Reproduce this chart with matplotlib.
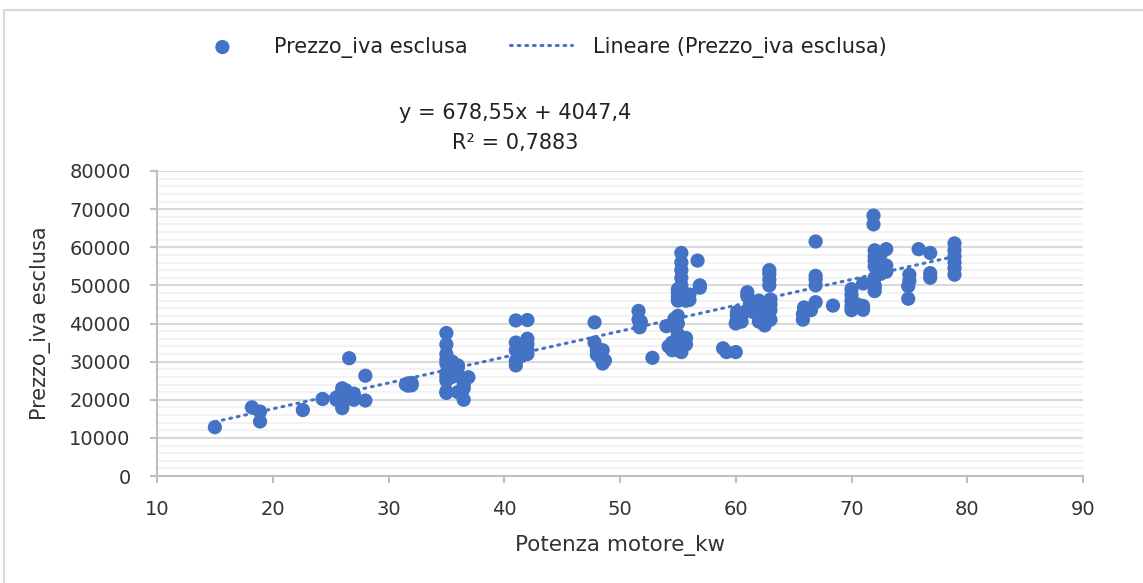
import matplotlib.pyplot as plt
from matplotlib.patches import Rectangle

plt.rcParams['font.family'] = ['DejaVu Sans']

potenza_kw = [
    15, 18.2, 18.9, 18.9, 22.6, 24.3, 25.5, 25.5,
    26, 26, 26, 26, 26, 26.3, 26.5, 26.6, 27, 27, 28, 28,
    31.5, 31.7, 31.7, 32, 32,
    35, 35, 35, 35, 35, 35, 35, 35, 35, 35,
    35.5, 35.5, 35.5, 36, 36, 36, 36, 36.3, 36.5, 36.5, 36.5, 36.9,
    41, 41, 41, 41, 41, 41.2, 41.5, 41.5, 42, 42, 42, 42, 42,
    47.8, 47.8, 48, 48, 48.3, 48.5, 48.5, 48.7,
    51.6, 51.6, 51.7, 51.8, 52.8, 54, 54.2,
    54.5, 54.5, 54.5, 54.7,
    55, 55, 55, 55, 55, 55, 55, 55, 55, 55,
    55.3, 55.3, 55.3, 55.3, 55.3, 55.3, 55.3, 55.3,
    55.7, 55.7, 55.7, 55.7, 56, 56, 56.7, 56.9, 56.9,
    58.9, 59.2, 60, 60, 60.1, 60.1, 60.1, 60.5, 60.5,
    61, 61, 61, 61.5, 61.5, 62, 62, 62, 62, 62.5, 62.5, 62.5, 62.5,
    62.9, 62.9, 62.9, 62.9, 63, 63, 63, 63,
    65.8, 65.8, 65.9, 66.5, 66.9, 66.9, 66.9, 66.9, 66.9, 68.4,
    70, 70, 70, 70, 70, 70.5, 71, 71, 71,
    71.9, 71.9, 72, 72, 72, 72, 72, 72, 72, 72,
    72.5, 72.5, 72.5, 73, 73, 73,
    74.9, 74.9, 75, 75, 75.8, 76.8, 76.8, 76.8,
    78.9, 78.9, 78.9, 78.9, 78.9, 78.9,
]
prezzo_iva_esclusa = [
    12800, 18000, 16900, 14300, 17300, 20200, 20000, 20600,
    17800, 19000, 21000, 22000, 23000, 22500, 20500, 30900, 20000, 21600, 26300, 19800,
    24000, 24300, 23700, 24400, 23800,
    21800, 25000, 29500, 30500, 32000, 34500, 37500, 27000, 26000, 22200,
    30000, 28000, 26000, 28500, 29000, 26300, 22000, 21500, 24000, 20000, 23000, 25900,
    33000, 35000, 40800, 29000, 30200, 34000, 31500, 33200, 33000, 34600, 40900, 36000, 32000,
    40300, 35000, 33000, 31800, 31000, 33000, 29500, 30300,
    43300, 41000, 39000, 40500, 31000, 39300, 34000,
    33000, 35000, 39500, 41200,
    33000, 34000, 36000, 37200, 40000, 42000, 46000, 47000, 48200, 49000,
    50000, 52000, 54000, 56000, 58500, 46500, 48000, 32500,
    34500, 36200, 46000, 47000, 46200, 47600, 56500, 50000, 49400,
    33500, 32500, 32500, 40000, 41000, 42200, 43000, 40500, 42000,
    43500, 47200, 48200, 44000, 43000, 40500, 42000, 44000, 46000, 39500, 41000, 43200, 45200,
    50000, 51500, 53000, 54000, 41000, 43500, 45000, 46300,
    41000, 42500, 44200, 43500, 61500, 50000, 51500, 52500, 45600, 44700,
    43500, 44500, 46000, 47500, 49000, 45000, 43600, 44600, 50500,
    68300, 66000, 59200, 57600, 56500, 55000, 52000, 50000, 48500, 49500,
    53000, 55000, 58000, 59500, 55200, 53600,
    46500, 49800, 51200, 52800, 59500, 58500, 53200, 52000,
    61000, 59200, 57600, 56000, 54500, 52800,
]

# linear trend shown on the chart
slope = 678.55
intercept = 4047.4
r2_text = '0,7883'

blue = '#4472C4'

fig = plt.figure(figsize=(11.43, 5.83), dpi=100)
ax = fig.add_axes([157 / 1143, 1 - 476 / 583, (1083 - 157) / 1143, (476 - 171) / 583])

fig.patches.append(Rectangle((4 / 1143, -0.1), 1.2, 1 - 10 / 583 + 0.1, transform=fig.transFigure,
                             fill=False, edgecolor='#d9d9d9', linewidth=1.5, zorder=0))

ax.scatter(potenza_kw, prezzo_iva_esclusa, s=105, color=blue, edgecolors='none', zorder=3,
           label='Prezzo_iva esclusa')

x0, x1 = min(potenza_kw), max(potenza_kw)
ax.plot([x0, x1], [slope * x0 + intercept, slope * x1 + intercept], color=blue, linewidth=2.2,
        linestyle=(0, (0.6, 1.9)), dash_capstyle='round', zorder=4,
        label='Lineare (Prezzo_iva esclusa)')

ax.set_xlim(10, 90)
ax.set_ylim(0, 80000)
ax.set_xticks(range(10, 91, 10))
ax.set_yticks(range(0, 80001, 10000))
ax.set_yticks(range(0, 80001, 2000), minor=True)
ax.grid(True, which='major', axis='y', color='#d9d9d9', linewidth=1.5, zorder=0)
ax.grid(True, which='minor', axis='y', color='#f2f2f2', linewidth=1.5, zorder=0)
ax.set_axisbelow(True)

for side in ['top', 'right']:
    ax.spines[side].set_visible(False)
for side in ['left', 'bottom']:
    ax.spines[side].set_color('#bfbfbf')
    ax.spines[side].set_linewidth(1.5)
ax.tick_params(axis='both', which='major', colors='#bfbfbf', labelcolor='#333333',
               labelsize=14, length=5, width=1.5)
ax.tick_params(axis='y', which='minor', length=0)
ax.tick_params(axis='x', pad=12)
ax.tick_params(axis='y', pad=14)

ax.set_xlabel('Potenza motore_kw', fontsize=15.5, color='#333333', labelpad=12)
ax.set_ylabel('Prezzo_iva esclusa', fontsize=15, color='#333333', labelpad=13)

fig.text(515 / 1143, 1 - 113 / 583, 'y = 678,55x + 4047,4', ha='center', va='center',
         fontsize=15, color='#222222')
fig.text(515 / 1143, 1 - 143 / 583, 'R² = ' + r2_text, ha='center', va='center',
         fontsize=15, color='#222222')

fig.legend(loc='center', bbox_to_anchor=(539 / 1143, 1 - 47 / 583), ncol=2, frameon=False,
           fontsize=15, columnspacing=2.0, handlelength=3.0, handletextpad=1.0,
           labelcolor='#222222')

plt.savefig('out.png', dpi=100)
